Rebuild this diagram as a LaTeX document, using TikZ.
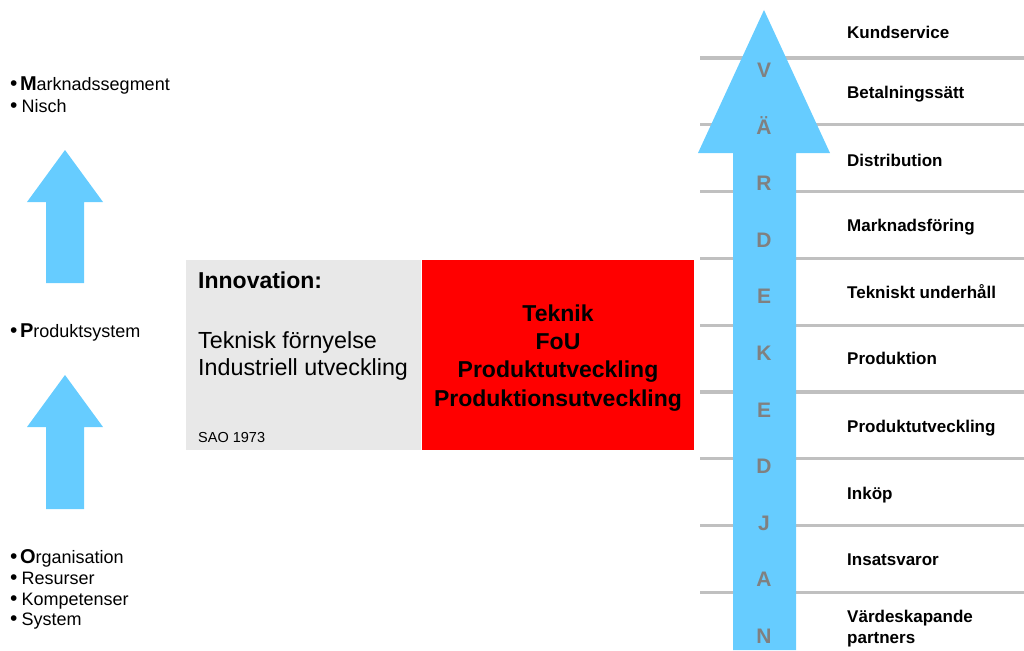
\documentclass[tikz,border=0pt]{standalone}
\usepackage{fontspec}
\setmainfont{Liberation Sans}
\definecolor{arrowblue}{HTML}{66CCFF}
\definecolor{linegray}{HTML}{C0C0C0}
\definecolor{lettergray}{HTML}{808080}
\definecolor{boxgray}{HTML}{E8E8E8}
\definecolor{boxred}{HTML}{FF0000}
\newcommand{\bigini}[1]{\hspace{2.5pt}{\fontsize{20}{20}\selectfont\bfseries #1}}
\newcommand{\blt}{{\fontsize{21}{20}\selectfont •}}
\newcommand{\bltsp}{\blt\hspace{4pt}}
\tikzset{
  leftitem/.style={anchor=base west, inner sep=0pt, font=\fontsize{18}{20}\selectfont},
  chainlabel/.style={anchor=base west, inner sep=0pt, align=left, font=\fontsize{17}{20.5}\selectfont\bfseries},
  chainletter/.style={anchor=base, inner sep=0pt, text=lettergray, font=\fontsize{21}{24}\selectfont\bfseries},
  chainline/.style={draw=linegray, line width=3.3pt},
  upfill/.style={fill=arrowblue, draw=none},
  redline/.style={anchor=base, inner sep=0pt, font=\fontsize{23}{28}\selectfont\bfseries},
}

\begin{document}
\begin{tikzpicture}[x=1pt,y=-1pt]
  \useasboundingbox (0,0) rectangle (1024,650);

  %% left column: O -> P -> M
  \node[leftitem] (mseg) at (10,91) {\blt\bigini{M}arknadssegment};
  \node[leftitem] (nisch) at (10,113) {\bltsp Nisch};
  \fill[upfill, shift={(65,150)}] (0,0) -- (38,52) -- (19,52) -- (19,133) -- (-19,133) -- (-19,52) -- (-38,52) -- cycle;
  \node[leftitem] (psys) at (10,337) {\blt\bigini{P}roduktsystem};
  \fill[upfill, shift={(65,375)}] (0,0) -- (38,52) -- (19,52) -- (19,134) -- (-19,134) -- (-19,52) -- (-38,52) -- cycle;
  \node[leftitem] (org) at (10,563) {\blt\bigini{O}rganisation};
  \node[leftitem] (res) at (10,584) {\bltsp Resurser};
  \node[leftitem] (komp) at (10,605) {\bltsp Kompetenser};
  \node[leftitem] (syst) at (10,625) {\bltsp System};

  %% middle boxes
  \node[fill=boxgray, minimum width=235pt, minimum height=190pt, inner sep=0pt] (innobox) at (303.5,355) {};
  \node[fill=boxred, minimum width=272pt, minimum height=190pt, inner sep=0pt] (techbox) at (558,355) {};
  \node[anchor=base west, inner sep=0pt, font=\fontsize{23}{28}\selectfont\bfseries] (innohead) at (198,288) {Innovation:};
  \node[anchor=base west, inner sep=0pt, font=\fontsize{23.3}{28}\selectfont] (innoa) at (198,348) {Teknisk förnyelse};
  \node[anchor=base west, inner sep=0pt, font=\fontsize{23.3}{28}\selectfont] (innob) at (198,375) {Industriell utveckling};
  \node[anchor=base west, inner sep=0pt, font=\fontsize{14.5}{17}\selectfont] (sao) at (198,442) {SAO 1973};
  \foreach \txt [count=\i] in {Teknik,FoU,Produktutveckling,Produktionsutveckling}
    \node[redline] (tech\i) at (558,{321+28.4*(\i-1)}) {\txt};

  %% value chain
  \foreach \k in {0,...,8}
    \draw[chainline] (700,{58+66.8*\k}) -- (1024,{58+66.8*\k});
  \fill[upfill] (764,10) -- (830,153) -- (796,153) -- (796,650) -- (733,650) -- (733,153) -- (698,153) -- cycle;
  \foreach \ch [count=\i] in {V,Ä,R,D,E,K,E,D,J,A,N}
    \node[chainletter] (letter\i) at (764,{77.5+56.6*(\i-1)}) {\ch};
  \foreach \lab/\yb [count=\i] in {Kundservice/39,Betalningssätt/99,Distribution/166,Marknadsföring/231,Tekniskt underhåll/298,Produktion/364,Produktutveckling/432,Inköp/499,Insatsvaror/565.5}
    \node[chainlabel] (step\i) at (847,\yb) {\lab};
  \node[chainlabel] (partners) at (847,643) {Värdeskapande\\partners};
\end{tikzpicture}
\end{document}
